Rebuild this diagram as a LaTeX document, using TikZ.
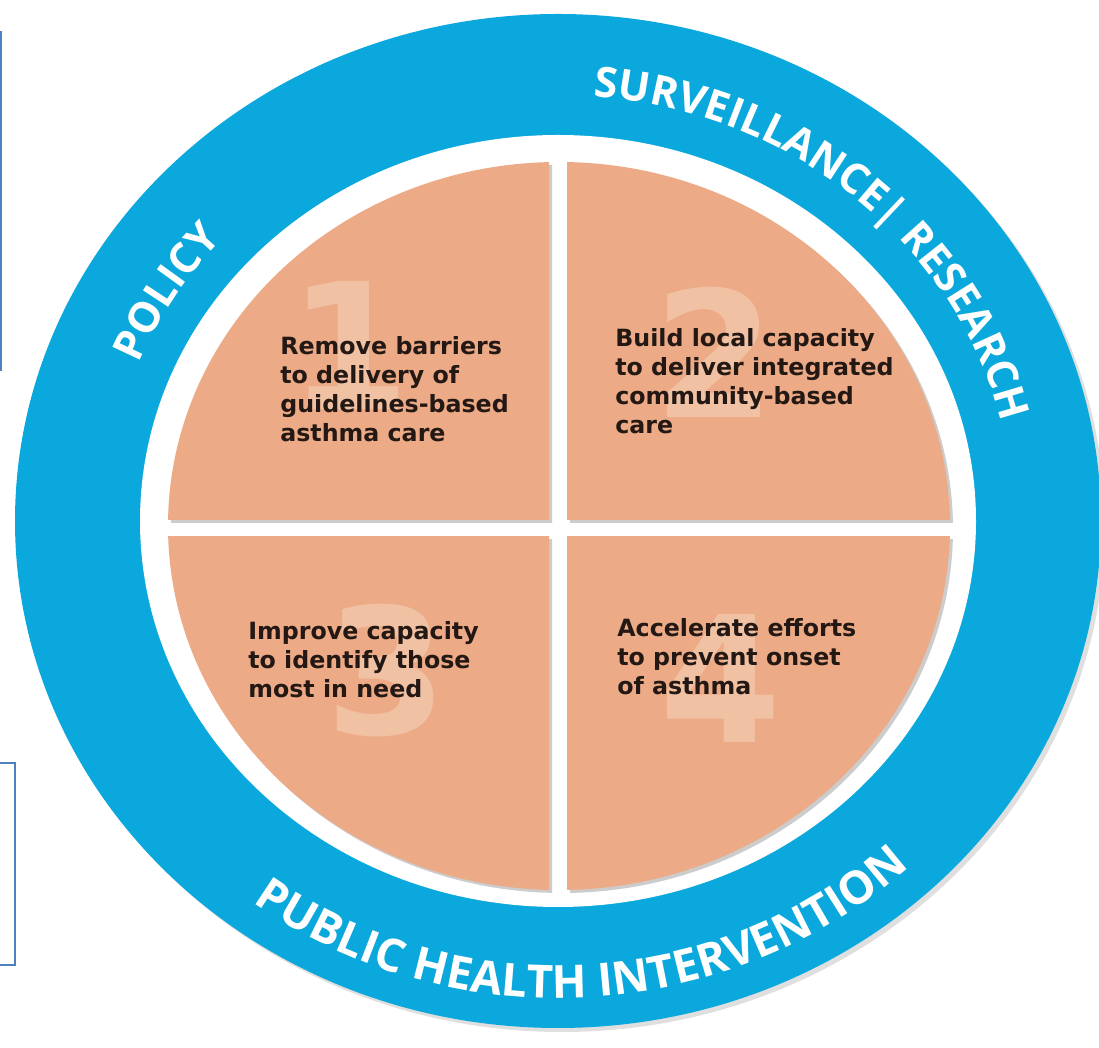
\documentclass[tikz,border=0pt]{standalone}
\usepackage{fontspec}
\usepackage{xcolor}
\usetikzlibrary{decorations.text}
\newfontfamily\ringfont{Open Sans}
\newfontfamily\quadfont{DejaVu Sans}
\definecolor{ringblue}{RGB}{10,168,220}
\definecolor{quadorange}{RGB}{236,171,134}
\definecolor{digittone}{RGB}{241,193,164}
\definecolor{inkdark}{RGB}{35,24,20}
\definecolor{frameblue}{RGB}{79,129,189}
\tikzset{
  goal/.style={anchor=north west, align=left, inner sep=0pt, text=inkdark,
    font=\quadfont\bfseries\fontsize{13.5}{16.5}\selectfont},
  bignum/.style={inner sep=0pt, text=digittone,
    font=\quadfont\bfseries\fontsize{100}{100}\selectfont},
  ringtext/.style={decorate, decoration={text along path, text align=center,
    text color=white, text={#1}}}
}

\begin{document}
\begin{tikzpicture}[x=0.02cm, y=0.02cm]
    \useasboundingbox (0,0) rectangle (1099,1048);
    \clip (0,0) rectangle (1099,1048);

    % Outer ring
    \fill[gray!25] (562,523) ellipse [x radius=543, y radius=507];
    \fill[ringblue] (558,527) ellipse [x radius=543, y radius=507];
    \fill[white] (558,527) ellipse [x radius=418, y radius=386];

    % Four quarters
    \foreach \xa/\xb/\ya/\yb in {0/549/528/1048, 567/1099/528/1048, 0/549/0/511, 567/1099/0/511} {
        \begin{scope}[shift={(3,-3)}]
            \clip (\xa,\ya) rectangle (\xb,\yb);
            \fill[gray!40] (559,522) ellipse [x radius=391, y radius=364];
        \end{scope}
        \begin{scope}
            \clip (\xa,\ya) rectangle (\xb,\yb);
            \fill[quadorange] (559,522) ellipse [x radius=391, y radius=364];
        \end{scope}
    }

    % Large numbers behind the text
    \node[bignum] (num1) at (350,703) {1};
    \node[bignum] (num2) at (715,696) {2};
    \node[bignum] (num3) at (387,377) {3};
    \node[bignum] (num4) at (721,370) {4};

    % Goals
    \node[goal] (goal1) at (280,712) {Remove barriers\\to delivery of\\guidelines-based\\asthma care};
    \node[goal] (goal2) at (615,720) {Build local capacity\\to deliver integrated\\community-based\\care};
    \node[goal] (goal3) at (248,427) {Improve capacity\\to identify those\\most in need};
    \node[goal] (goal4) at (617,430) {Accelerate efforts\\to prevent onset\\of asthma};

    % Ring labels
    \path[ringtext={|\ringfont\bfseries\fontsize{24}{24}\selectfont|POLICY}] (558,527) ++(178.5:452 and 422)
        arc[start angle=178.5, end angle=118.5, x radius=452, y radius=422];
    \path[ringtext={|\ringfont\bfseries\fontsize{24}{24}\selectfont|SURVEILLANCE{\textbar} RESEARCH}] (558,527) ++(99:456 and 426)
        arc[start angle=99, end angle=-1, x radius=456, y radius=426];
    \path[ringtext={|\ringfont\bfseries\fontsize{26}{26}\selectfont|PUBLIC HEALTH INTERVENTION}] (558,527) ++(193.5:510 and 477)
        arc[start angle=193.5, end angle=353.5, x radius=510, y radius=477];

    % Frames cut by the left edge
    \draw[frameblue, line width=1.4pt] (-30,678) rectangle (1,1016);
    \draw[frameblue, line width=1.7pt] (-30,83) rectangle (15,285);
\end{tikzpicture}
\end{document}
